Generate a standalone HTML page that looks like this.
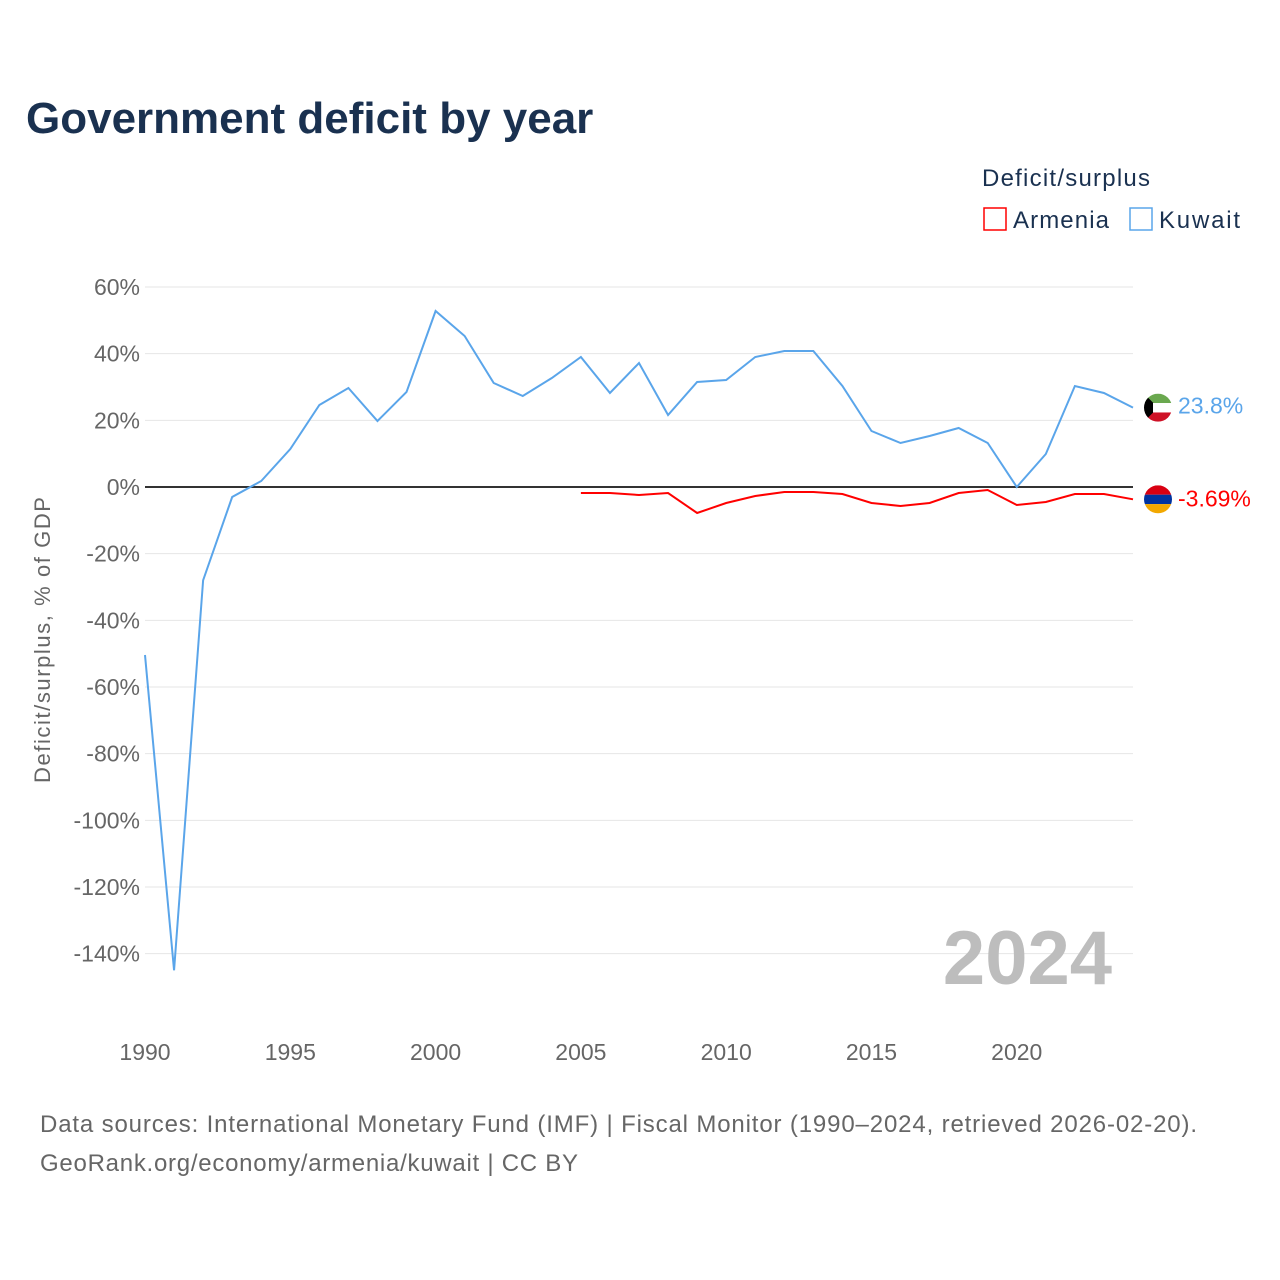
<!DOCTYPE html>
<html><head><meta charset="utf-8"><style>
body{margin:0;background:#fff;font-family:"Liberation Sans",sans-serif;}
#wrap{position:relative;width:1280px;height:1280px;overflow:hidden}
</style></head><body>
<div id="wrap">
<svg id="svg" width="1280" height="1280">
<text x="26" y="133" font-size="44" font-weight="bold" fill="#1a3150">Government deficit by year</text>
<text x="982" y="186" font-size="24" fill="#1a3150" textLength="168">Deficit/surplus</text>
<g><rect x="984" y="208" width="22" height="22" fill="none" stroke="#ff0000" stroke-width="1.5"/><text x="1013" y="228" font-size="24" fill="#1a3150" textLength="96">Armenia</text></g>
<g><rect x="1130" y="208" width="22" height="22" fill="none" stroke="#5aa5ea" stroke-width="1.5"/><text x="1159" y="228" font-size="24" fill="#1a3150" textLength="81">Kuwait</text></g>
<g id="grid"></g><g id="yt"></g><g id="xt"></g><g id="series"></g>
<text transform="translate(50,640) rotate(-90)" text-anchor="middle" font-size="22" fill="#666" textLength="286">Deficit/surplus, % of GDP</text>
<text x="1112" y="984" text-anchor="end" font-size="76" font-weight="bold" fill="#bdbdbd">2024</text>
<text x="40" y="1132" font-size="24" fill="#666" textLength="1157">Data sources: International Monetary Fund (IMF) | Fiscal Monitor (1990–2024, retrieved 2026-02-20).</text>
<text x="40" y="1171" font-size="24" fill="#666" textLength="538">GeoRank.org/economy/armenia/kuwait | CC BY</text>
</svg></div>
<script>
const years=[];for(let y=1990;y<=2024;y++)years.push(y);
const kuwait=[-50.4,-145,-28,-3,1.8,11.4,24.6,29.7,19.8,28.5,52.8,45.3,31.2,27.3,32.7,39,28.2,37.2,21.6,31.5,32.1,39,40.8,40.8,30.3,16.8,13.2,15.3,17.7,13.2,0,9.9,30.3,28.2,23.8];
const armeniaYears=[2005,2006,2007,2008,2009,2010,2011,2012,2013,2014,2015,2016,2017,2018,2019,2020,2021,2022,2023,2024];
const armenia=[-1.8,-1.8,-2.4,-1.8,-7.8,-4.8,-2.7,-1.5,-1.5,-2.1,-4.8,-5.7,-4.8,-1.8,-0.9,-5.4,-4.5,-2.1,-2.1,-3.69];
const yTicks=[60,40,20,0,-20,-40,-60,-80,-100,-120,-140];
const xTicks=[1990,1995,2000,2005,2010,2015,2020];
const NS="http://www.w3.org/2000/svg";
const X=v=>145+(v-1990)*(1133-145)/34;
const Y=v=>487-v*200/60;
function el(t,a,p){const e=document.createElementNS(NS,t);for(const k in a)e.setAttribute(k,a[k]);document.getElementById(p).appendChild(e);return e;}
yTicks.forEach(t=>{
 const l=el('line',{x1:145,x2:1133,y1:Y(t),y2:Y(t),stroke:t===0?'#333':'#e6e6e6','stroke-width':t===0?2:1},'grid');
 
 
 const tx=el('text',{x:140,y:Y(t)+8,'text-anchor':'end','font-size':23,fill:'#666'},'yt');tx.textContent=t+'%';
 
 
});
xTicks.forEach(t=>{
 const tx=el('text',{x:X(t),y:1060,'text-anchor':'middle','font-size':23,fill:'#666'},'xt');tx.textContent=t;
 
 
});
const kp=el('polyline',{points:years.map((y,i)=>X(y)+','+Y(kuwait[i])).join(' '),fill:'none',stroke:'#5aa5ea','stroke-width':2},'series');


const ap=el('polyline',{points:armeniaYears.map((y,i)=>X(y)+','+Y(armenia[i])).join(' '),fill:'none',stroke:'#ff0000','stroke-width':2},'series');


const kx=X(2024)+25,ky=Y(kuwait[kuwait.length-1]);
const kf=el('g',{},'series');
kf.innerHTML=`<clipPath id="ck"><circle cx="${kx}" cy="${ky}" r="14"/></clipPath><g clip-path="url(#ck)"><rect x="${kx-14}" y="${ky-14}" width="28" height="9.4" fill="#6aa84f"/><rect x="${kx-14}" y="${ky-4.6}" width="28" height="9.4" fill="#fff"/><rect x="${kx-14}" y="${ky+4.8}" width="28" height="9.4" fill="#ce1126"/><polygon points="${kx-14},${ky-14} ${kx-5},${ky-5} ${kx-5},${ky+5} ${kx-14},${ky+14}" fill="#000"/></g>`;
const kl=el('text',{x:kx+20,y:ky+6,'font-size':23,fill:'#5aa5ea'},'series');kl.textContent=kuwait[kuwait.length-1]+'%';


const ax=X(2024)+25,ay=Y(armenia[armenia.length-1]);
const af=el('g',{},'series');
af.innerHTML=`<clipPath id="ca"><circle cx="${ax}" cy="${ay}" r="14"/></clipPath><g clip-path="url(#ca)"><rect x="${ax-14}" y="${ay-14}" width="28" height="9.4" fill="#d90012"/><rect x="${ax-14}" y="${ay-4.6}" width="28" height="9.4" fill="#0033a0"/><rect x="${ax-14}" y="${ay+4.8}" width="28" height="9.4" fill="#f2a800"/></g>`;
const al=el('text',{x:ax+20,y:ay+7,'font-size':23,fill:'#ff0000'},'series');al.textContent=armenia[armenia.length-1]+'%';


</script>
</body></html>
